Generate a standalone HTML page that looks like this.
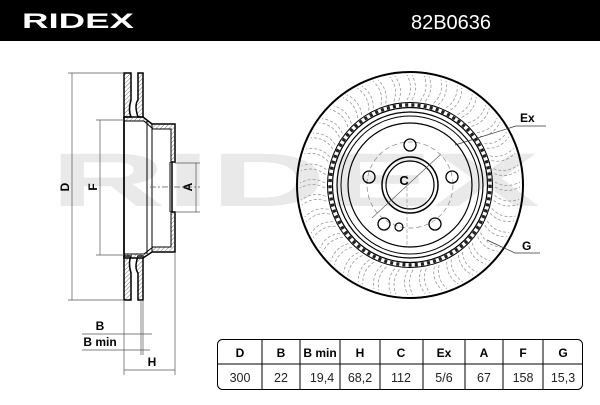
<!DOCTYPE html>
<html><head><meta charset="utf-8"><style>
body{margin:0;width:600px;height:400px;background:#fff;overflow:hidden;font-family:"Liberation Sans",sans-serif}
</style></head><body>
<svg width="600" height="400" viewBox="0 0 600 400" xmlns="http://www.w3.org/2000/svg" font-family="Liberation Sans, sans-serif">
<defs>
<pattern id="h" width="3" height="3" patternUnits="userSpaceOnUse" patternTransform="rotate(45)"><line x1="0" y1="0" x2="0" y2="3" stroke="#777" stroke-width="1"/></pattern>
<g id="s" fill="none" stroke="#999" stroke-width="0.8" stroke-dasharray="3 2">
<path d="M -3,-85 Q 4,-97 -3,-110"/><path d="M 2,-85 Q 9,-97 2,-110"/>
</g>
</defs>
<rect x="0" y="0" width="600" height="41" fill="#000"/>
<text x="22" y="28" fill="#fff" font-size="21" font-weight="bold" textLength="112" lengthAdjust="spacingAndGlyphs">RIDEX</text>
<text x="451" y="29" fill="#fff" font-size="20" text-anchor="middle">82B0636</text>
<!-- watermark -->
<text x="50" y="206" fill="#e9e9e9" font-size="76" font-weight="bold" textLength="490" lengthAdjust="spacingAndGlyphs">RIDEX</text>
<!-- side view -->
<g stroke="#000" fill="none">
<path d="M124,73 H131 V100 Q128,110 131,117 H124 Z" fill="url(#h)" stroke-width="1.5"/>
<path d="M138,73 H143 V117 H138 Q134,105 138,100 Z" fill="url(#h)" stroke-width="1.5"/>
<path d="M124,300 H131 V273 Q128,263 131,256 H124 Z" fill="url(#h)" stroke-width="1.5"/>
<path d="M138,300 H143 V256 H138 Q134,268 138,273 Z" fill="url(#h)" stroke-width="1.5"/>
<path d="M124,117 H143 L152,124 H175 V162 H172 V212 H175 V252 H152 L143,258 H124 Z" stroke-width="1.5"/>
<path d="M124,117 H143 L152,124 H175 V162 H171 V129 H153 L144,121 H124 Z" fill="url(#h)" stroke-width="1"/>
<path d="M124,258 H143 L152,252 H175 V212 H171 V247 H153 L144,254 H124 Z" fill="url(#h)" stroke-width="1"/>
<line x1="147" y1="121" x2="147" y2="254" stroke-width="1"/>
<line x1="152" y1="124" x2="152" y2="252" stroke-width="1"/>
<line x1="124" y1="117" x2="124" y2="258" stroke-width="1.5"/>
<line x1="170" y1="162" x2="170" y2="212" stroke-width="1"/>
</g>
<g stroke="#555" stroke-width="0.7" fill="none">
<line x1="68" y1="73" x2="124" y2="73"/><line x1="68" y1="300" x2="124" y2="300"/>
<line x1="72" y1="73" x2="72" y2="300"/>
<line x1="96" y1="120" x2="124" y2="120"/><line x1="96" y1="255" x2="124" y2="255"/>
<line x1="100" y1="120" x2="100" y2="255"/>
<line x1="175" y1="163" x2="200" y2="163"/><line x1="175" y1="212" x2="200" y2="212"/>
<line x1="196" y1="163" x2="196" y2="212"/>
<line x1="150" y1="187" x2="200" y2="187" stroke-dasharray="6 2 2 2"/>
<line x1="124" y1="300" x2="124" y2="375"/><line x1="143" y1="300" x2="143" y2="355"/><line x1="175" y1="252" x2="175" y2="375"/><line x1="141" y1="300" x2="141" y2="355"/>
<line x1="82" y1="334" x2="152" y2="334"/><line x1="82" y1="350" x2="150" y2="350"/>
<line x1="124" y1="370" x2="175" y2="370"/>
</g>
<g font-weight="bold" font-size="12" fill="#000">
<text x="69" y="187" transform="rotate(-90 69 187)" text-anchor="middle">D</text>
<text x="97" y="187" transform="rotate(-90 97 187)" text-anchor="middle">F</text>
<text x="192" y="187" transform="rotate(-90 192 187)" text-anchor="middle">A</text>
<text x="100" y="330" text-anchor="middle">B</text>
<text x="100" y="346" text-anchor="middle">B min</text>
<text x="152" y="366" text-anchor="middle">H</text>
</g>
<!-- front view -->
<g transform="translate(410,185)">
<circle r="113" fill="none" stroke="#000" stroke-width="2"/>
<g>
<use href="#s" transform="rotate(0)"/><use href="#s" transform="rotate(9)"/><use href="#s" transform="rotate(18)"/><use href="#s" transform="rotate(27)"/><use href="#s" transform="rotate(36)"/><use href="#s" transform="rotate(45)"/><use href="#s" transform="rotate(54)"/><use href="#s" transform="rotate(63)"/><use href="#s" transform="rotate(72)"/><use href="#s" transform="rotate(81)"/>
<use href="#s" transform="rotate(90)"/><use href="#s" transform="rotate(99)"/><use href="#s" transform="rotate(108)"/><use href="#s" transform="rotate(117)"/><use href="#s" transform="rotate(126)"/><use href="#s" transform="rotate(135)"/><use href="#s" transform="rotate(144)"/><use href="#s" transform="rotate(153)"/><use href="#s" transform="rotate(162)"/><use href="#s" transform="rotate(171)"/>
<use href="#s" transform="rotate(180)"/><use href="#s" transform="rotate(189)"/><use href="#s" transform="rotate(198)"/><use href="#s" transform="rotate(207)"/><use href="#s" transform="rotate(216)"/><use href="#s" transform="rotate(225)"/><use href="#s" transform="rotate(234)"/><use href="#s" transform="rotate(243)"/><use href="#s" transform="rotate(252)"/><use href="#s" transform="rotate(261)"/>
<use href="#s" transform="rotate(270)"/><use href="#s" transform="rotate(279)"/><use href="#s" transform="rotate(288)"/><use href="#s" transform="rotate(297)"/><use href="#s" transform="rotate(306)"/><use href="#s" transform="rotate(315)"/><use href="#s" transform="rotate(324)"/><use href="#s" transform="rotate(333)"/><use href="#s" transform="rotate(342)"/><use href="#s" transform="rotate(351)"/>
</g>
<circle r="80" fill="none" stroke="#222" stroke-width="3.5" stroke-dasharray="3 3.2"/>
<circle r="82.5" fill="none" stroke="#000" stroke-width="1"/>
<circle r="77.5" fill="none" stroke="#000" stroke-width="1.2"/>
<circle r="73" fill="none" stroke="#000" stroke-width="1.2"/>
<circle r="69" fill="none" stroke="#000" stroke-width="1"/>
<circle r="62" fill="none" stroke="#000" stroke-width="1.2"/>
<circle r="43" fill="none" stroke="#888" stroke-width="0.7" stroke-dasharray="5 3"/>
<circle r="28" fill="none" stroke="#000" stroke-width="1.5"/>
<circle r="24" fill="none" stroke="#000" stroke-width="1.2"/>
<circle cx="0" cy="-40" r="6" fill="none" stroke="#000" stroke-width="1.3"/>
<circle cx="42" cy="-8" r="6" fill="none" stroke="#000" stroke-width="1.3"/>
<circle cx="-41" cy="-8" r="6" fill="none" stroke="#000" stroke-width="1.3"/>
<circle cx="-26" cy="39" r="6" fill="none" stroke="#000" stroke-width="1.3"/>
<circle cx="25" cy="39" r="6" fill="none" stroke="#000" stroke-width="1.3"/>
<circle cx="-11" cy="42" r="4" fill="none" stroke="#000" stroke-width="1.2"/>
<line x1="-38" y1="33" x2="30" y2="-30" stroke="#555" stroke-width="0.6"/>
<line x1="-3" y1="-10" x2="-3" y2="60" stroke="#777" stroke-width="0.5" stroke-dasharray="4 2"/>
<text x="-6" y="0" font-size="13" font-weight="bold" text-anchor="middle">C</text>
</g>
<g stroke="#333" stroke-width="0.7" fill="none">
<polyline points="455,145 516,126 546,126"/>
<polyline points="487,240 515,253 540,253"/>
</g>
<text x="520" y="122" font-size="12" font-weight="bold">Ex</text>
<text x="522" y="250" font-size="12" font-weight="bold">G</text>
<!-- table -->
<rect x="217.5" y="339.5" width="365" height="50" rx="5" fill="none" stroke="#000" stroke-width="1"/>
<line x1="218" y1="364" x2="582" y2="364" stroke="#000"/>
<g stroke="#000" stroke-width="1">
<line x1="262" y1="340" x2="262" y2="389"/><line x1="300" y1="340" x2="300" y2="389"/><line x1="340" y1="340" x2="340" y2="389"/><line x1="380" y1="340" x2="380" y2="389"/><line x1="423" y1="340" x2="423" y2="389"/><line x1="465" y1="340" x2="465" y2="389"/><line x1="503" y1="340" x2="503" y2="389"/><line x1="543" y1="340" x2="543" y2="389"/>
</g>
<g font-size="12" font-weight="bold" text-anchor="middle">
<text x="240" y="357">D</text><text x="281" y="357">B</text><text x="320" y="357">B min</text><text x="360" y="357">H</text><text x="401" y="357">C</text><text x="444" y="357">Ex</text><text x="484" y="357">A</text><text x="523" y="357">F</text><text x="563" y="357">G</text>
</g>
<g font-size="12.5" text-anchor="middle" fill="#222">
<text x="240" y="382">300</text><text x="281" y="382">22</text><text x="322" y="382">19,4</text><text x="360" y="382">68,2</text><text x="401" y="382">112</text><text x="444" y="382">5/6</text><text x="484" y="382">67</text><text x="523" y="382">158</text><text x="563" y="382">15,3</text>
</g>
</svg>
</body></html>
